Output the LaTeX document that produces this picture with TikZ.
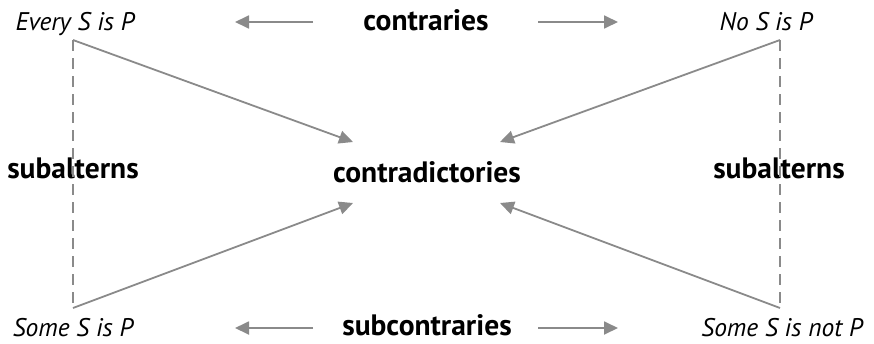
\documentclass[tikz,border=0pt]{standalone}
\usepackage{fontspec}
\setmainfont{PT Sans}
\usetikzlibrary{arrows.meta}
\definecolor{lg}{HTML}{8A8A8A}
\tikzset{
  prop/.style={font=\fontsize{25.5}{28}\selectfont\itshape, inner sep=0pt, anchor=base},
  rel/.style={font=\fontsize{29.5}{32}\selectfont\bfseries, inner sep=0pt, anchor=base},
  conn/.style={draw=lg, line width=1.8pt},
  arr/.style={conn, -{Triangle[length=14pt,width=13pt]}},
  dsh/.style={draw=lg, line width=1.8pt, dash pattern=on 11pt off 7pt}
}
\begin{document}
\begin{tikzpicture}[x=1pt,y=-1pt]
\useasboundingbox (0,0) rectangle (874,343);
\node[prop] (A) at (75,30) {Every S is P};
\node[prop] (E) at (766,30) {No S is P};
\node[prop, text depth=0pt] (I) at (73,336) {Some S is P};
\node[prop, text depth=0pt] (O) at (782,336) {Some S is not P};
\node[rel] (ctr) at (426,30) {contraries};
\node[rel, text depth=0pt] (sub) at (427,335) {subcontraries};
\node[rel] (cd) at (427,182) {contradictories};
\node[rel] (sl) at (73,178) {subalterns};
\node[rel] (sr) at (779,178) {subalterns};
\coordinate (a) at (73,40);
\coordinate (e) at (780,40);
\coordinate (i) at (73,308);
\coordinate (o) at (780,308);
\coordinate (tl) at (353,142);
\coordinate (tr) at (500,142);
\coordinate (bl) at (353,203);
\coordinate (br) at (500,203);
\coordinate (cl1) at (313,22);
\coordinate (cl2) at (235,22);
\coordinate (cr1) at (538,22);
\coordinate (cr2) at (618,22);
\coordinate (sl1) at (313,328);
\coordinate (sl2) at (235,328);
\coordinate (sr1) at (538,328);
\coordinate (sr2) at (618,328);
\draw[dsh] (a) -- (i);
\draw[dsh] (e) -- (o);
\draw[arr] (a) -- (tl);
\draw[arr] (e) -- (tr);
\draw[arr] (i) -- (bl);
\draw[arr] (o) -- (br);
\draw[arr] (cl1) -- (cl2);
\draw[arr] (cr1) -- (cr2);
\draw[arr] (sl1) -- (sl2);
\draw[arr] (sr1) -- (sr2);
\end{tikzpicture}
\end{document}
